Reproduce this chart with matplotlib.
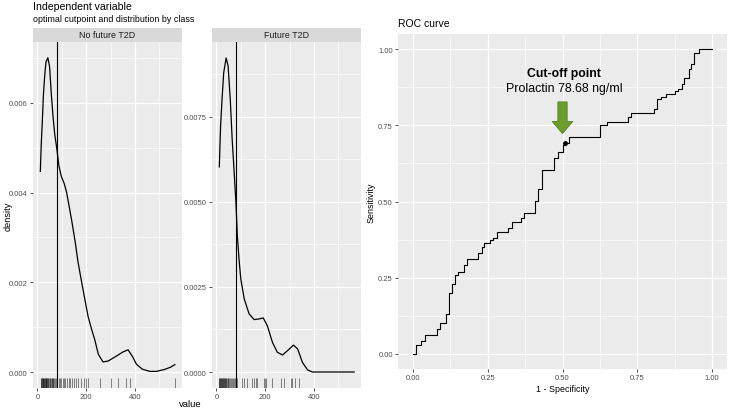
import matplotlib
matplotlib.use("Agg")
import matplotlib.pyplot as plt
from matplotlib.patches import FancyArrow
import matplotlib.transforms as mtransforms

plt.rcParams['font.family'] = ['Liberation Sans', 'DejaVu Sans']

# ---- data ----
cutpoint = 78.68
panel_names = ["No future T2D", "Future T2D"]

dens_no_x = [12, 16, 20, 25, 30, 35, 43, 50, 57, 64, 71, 80, 88, 98, 110, 120, 130,
             140, 155, 167, 185, 208, 220, 235, 250, 269, 290, 324, 350, 372, 390,
             406, 430, 460, 488, 520, 545, 564]
dens_no_y = [0.00447, 0.0051, 0.00556, 0.0062, 0.0066, 0.0069, 0.0070, 0.0068,
             0.0062, 0.0057, 0.0053, 0.00496, 0.0046, 0.00436, 0.0042, 0.0040,
             0.0037, 0.0034, 0.0029, 0.00244, 0.0019, 0.00124, 0.0010, 0.00073,
             0.0004, 0.00023, 0.00025, 0.00036, 0.00045, 0.0005, 0.00035, 0.00018,
             0.00007, 0.00002, 0.00002, 0.00006, 0.00011, 0.00017]

dens_fut_x = [12, 17, 23, 30, 40, 48, 57, 65, 71, 80, 86, 93, 100, 114, 134, 155,
              175, 192, 209, 230, 250, 271, 292, 316, 333, 353, 374, 394, 565]
dens_fut_y = [0.00603, 0.0072, 0.0080, 0.0088, 0.00923, 0.0090, 0.0080, 0.0068,
              0.0061, 0.0050, 0.0040, 0.0033, 0.00274, 0.00215, 0.00171, 0.00154,
              0.00156, 0.00159, 0.00136, 0.00087, 0.00058, 0.0005, 0.00063, 0.00079,
              0.00068, 0.00028, 0.00006, 0.0, 0.0]

rug_no = [13, 15, 18, 20, 22, 24, 25, 27, 29, 30, 32, 34, 35, 37, 39, 41, 43, 45,
          47, 50, 52, 55, 58, 60, 63, 66, 70, 74, 78, 82, 87, 92, 97, 103, 108, 115,
          121, 128, 135, 141, 150, 158, 166, 177, 190, 200, 206, 256, 300, 330, 365,
          378, 565]
rug_fut = [10, 12, 14, 16, 18, 20, 22, 24, 26, 28, 30, 32, 34, 36, 38, 40, 43, 46,
           49, 52, 56, 60, 64, 68, 73, 78, 84, 105, 115, 126, 144, 153, 162, 168,
           194, 200, 205, 229, 263, 276, 304, 311, 322, 338]

# ROC step vertices (fpr, tpr)
roc_fpr = [0.0, 0.009, 0.028, 0.04, 0.081, 0.09, 0.11, 0.121, 0.13, 0.14, 0.15,
           0.171, 0.18, 0.219, 0.23, 0.239, 0.258, 0.269, 0.28, 0.319, 0.33, 0.361,
           0.37, 0.408, 0.419, 0.433, 0.472, 0.485, 0.5, 0.51, 0.522, 0.626, 0.648,
           0.718, 0.729, 0.806, 0.817, 0.828, 0.847, 0.876, 0.887, 0.899, 0.906,
           0.923, 0.93, 0.939, 0.958, 1.0]
roc_tpr = [0.0, 0.03, 0.041, 0.0615, 0.081, 0.101, 0.13, 0.2, 0.23, 0.26, 0.27,
           0.29, 0.31, 0.33, 0.35, 0.363, 0.372, 0.38, 0.40, 0.412, 0.432, 0.445,
           0.463, 0.503, 0.542, 0.602, 0.643, 0.663, 0.684, 0.693, 0.712, 0.752,
           0.761, 0.778, 0.792, 0.805, 0.838, 0.843, 0.852, 0.862, 0.871, 0.887,
           0.904, 0.934, 0.953, 0.986, 1.0, 1.0]
cut_fpr, cut_tpr = 0.51, 0.693

BG = "#EBEBEB"
TICKC = "#4D4D4D"


def gg_style(ax, major_x, minor_x, major_y, minor_y):
    ax.set_facecolor(BG)
    for s in ax.spines.values():
        s.set_visible(False)
    ax.set_xticks(major_x)
    ax.set_xticks(minor_x, minor=True)
    ax.set_yticks(major_y)
    ax.set_yticks(minor_y, minor=True)
    ax.grid(which="major", color="white", lw=0.9)
    ax.grid(which="minor", color="white", lw=0.45)
    ax.set_axisbelow(True)
    ax.tick_params(which="major", length=2.2, width=0.6, color="#333333",
                   labelcolor=TICKC, labelsize=5.5, pad=1.5)
    ax.tick_params(which="minor", length=0)


fig = plt.figure(figsize=(7.29, 4.10), dpi=100)
W, H = 729, 410


def px_axes(x0, y0, x1, y1):
    return fig.add_axes([x0 / W, 1 - y1 / H, (x1 - x0) / W, (y1 - y0) / H])


# ---- density panels ----
panels = [
    (33, dens_no_x, dens_no_y, rug_no, (-0.00035, 0.00735),
     [0, 0.002, 0.004, 0.006], [0.001, 0.003, 0.005, 0.007], "{:.3f}"),
    (212, dens_fut_x, dens_fut_y, rug_fut, (-0.00047, 0.0097),
     [0, 0.0025, 0.005, 0.0075], [0.00125, 0.00375, 0.00625, 0.00875], "{:.4f}"),
]
for name, (x0, dx, dy, rug, ylim, yt, ymt, fmt) in zip(panel_names, panels):
    ax = px_axes(x0, 43, x0 + 149, 389)
    gg_style(ax, [0, 200, 400], [100, 300, 500], yt, ymt)
    ax.set_yticklabels([fmt.format(v) for v in yt])
    ax.set_xlim(-18, 593)
    ax.set_ylim(*ylim)
    ax.plot(dx, dy, color="black", lw=0.9, solid_joinstyle="round")
    ax.axvline(cutpoint, color="black", lw=0.8)
    trans = mtransforms.blended_transform_factory(ax.transData, ax.transAxes)
    ax.vlines(rug, 0, 0.03, transform=trans, color="black", lw=0.6, alpha=0.55)
    # strip
    sax = px_axes(x0, 29, x0 + 149, 43)
    sax.set_facecolor("#D9D9D9")
    sax.set_xticks([]); sax.set_yticks([])
    for s in sax.spines.values():
        s.set_visible(False)
    sax.text(0.5, 0.5, name, ha="center", va="center", fontsize=6.4, color="#1A1A1A")

fig.text(33 / W, 1 - 6.5 / H, "Independent variable", fontsize=7.6, va="center", ha="left")
fig.text(33 / W, 1 - 19.5 / H, "optimal cutpoint and distribution by class",
         fontsize=6.4, va="center", ha="left")
fig.text(8 / W, 1 - 216 / H, "density", rotation=90, fontsize=6.6, va="center", ha="center")
fig.text(190 / W, 1 - 405 / H, "value", fontsize=6.8, va="center", ha="center")

# ---- ROC panel ----
ax = px_axes(398, 35, 727, 370)
ticks = [0, 0.25, 0.5, 0.75, 1.0]
mticks = [0.125, 0.375, 0.625, 0.875]
gg_style(ax, ticks, mticks, ticks, mticks)
ax.set_xticklabels([f"{t:.2f}" for t in ticks])
ax.set_yticklabels([f"{t:.2f}" for t in ticks])
ax.set_xlim(-0.05, 1.05)
ax.set_ylim(-0.05, 1.05)
ax.plot(roc_fpr, roc_tpr, drawstyle="steps-post", color="black", lw=0.8)
ax.plot([cut_fpr], [cut_tpr], "o", color="black", ms=2.5)
ax.add_patch(FancyArrow(0.5, 0.827, 0, -0.104, width=0.031, head_width=0.069,
                        head_length=0.04, length_includes_head=True,
                        fc="#6B9E2F", ec="#557F22", lw=0.6))
ax.text(0.505, 0.922, "Cut-off point", ha="center", va="center", fontsize=8.8,
        fontweight="bold")
ax.text(0.505, 0.873, "Prolactin 78.68 ng/ml", ha="center", va="center", fontsize=8.9)
ax.set_xlabel("1 - Specificity", fontsize=6.4, labelpad=2)
ax.set_ylabel("Sensitivity", fontsize=6.4, labelpad=2)
fig.text(398 / W, 1 - 24 / H, "ROC curve", fontsize=7.5, va="center", ha="left")

fig.savefig("out.png", dpi=100)
